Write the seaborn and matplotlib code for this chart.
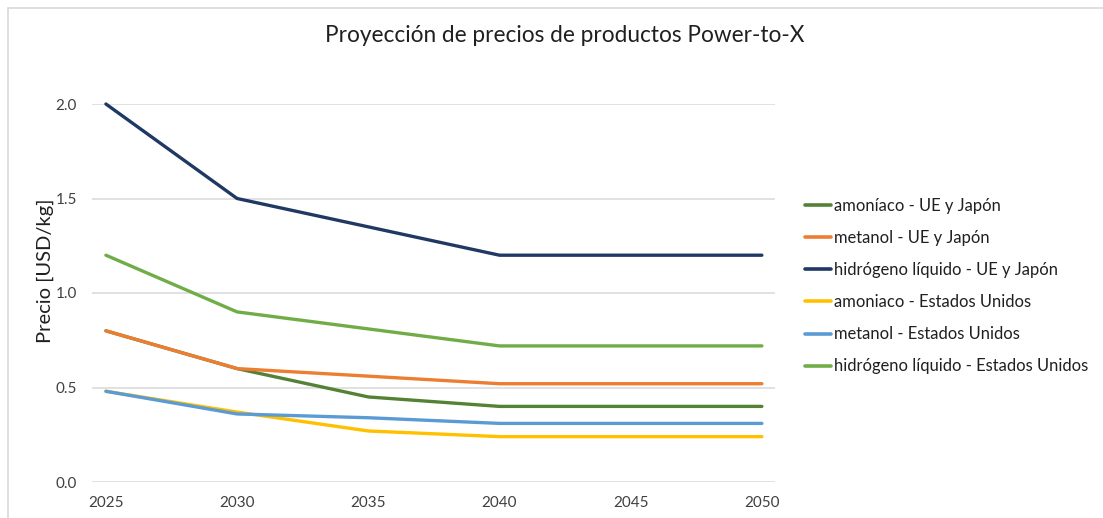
import matplotlib.pyplot as plt
import seaborn as sns
import pandas as pd
from matplotlib.lines import Line2D

# data
years = [2025, 2030, 2035, 2040, 2045, 2050]
amoniaco_ue = [0.80, 0.60, 0.45, 0.40, 0.40, 0.40]
metanol_ue = [0.80, 0.60, 0.56, 0.52, 0.52, 0.52]
hidrogeno_ue = [2.00, 1.50, 1.35, 1.20, 1.20, 1.20]
amoniaco_us = [0.48, 0.37, 0.27, 0.24, 0.24, 0.24]
metanol_us = [0.48, 0.36, 0.34, 0.31, 0.31, 0.31]
hidrogeno_us = [1.20, 0.90, 0.81, 0.72, 0.72, 0.72]

series_names = [
    "amoníaco - UE y Japón",
    "metanol - UE y Japón",
    "hidrógeno líquido - UE y Japón",
    "amoniaco - Estados Unidos",
    "metanol - Estados Unidos",
    "hidrógeno líquido - Estados Unidos",
]
series_values = [amoniaco_ue, metanol_ue, hidrogeno_ue,
                 amoniaco_us, metanol_us, hidrogeno_us]
colors = ["#548235", "#ED7D31", "#203864", "#FFC000", "#5B9BD5", "#70AD47"]

rows = []
for name, vals in zip(series_names, series_values):
    for yr, v in zip(years, vals):
        rows.append({"year": yr, "precio": v, "serie": name})
df = pd.DataFrame(rows)

sns.set_style("white")
plt.rcParams["font.family"] = ["Lato", "DejaVu Sans"]

fig = plt.figure(figsize=(11.03, 5.18), dpi=100)
ax = fig.add_axes([92 / 1103, 1 - 482 / 518, (775 - 92) / 1103, (482 - 104) / 518])

sns.lineplot(data=df, x="year", y="precio", hue="serie", hue_order=series_names,
             palette=colors, linewidth=2.4, ax=ax, legend=False)
for ln in ax.lines:
    ln.set_clip_on(False)

ax.set_xlim(2024.47, 2050.5)
ax.set_ylim(0, 2.0)
ax.set_xticks(years)
ax.set_yticks([0, 0.5, 1.0, 1.5, 2.0])
ax.set_yticklabels(["0.0", "0.5", "1.0", "1.5", "2.0"])
ax.grid(axis="y", color="#D9D9D9", linewidth=1.1)
ax.set_axisbelow(True)
for s in ax.spines.values():
    s.set_visible(False)
ax.tick_params(axis="both", length=0, labelsize=11, colors="#404040")
ax.tick_params(axis="y", pad=11)
ax.tick_params(axis="x", pad=10)
ax.set_xlabel("")
ax.set_ylabel("Precio [USD/kg]", fontsize=14.5, color="#202020")
ax.yaxis.set_label_coords(-0.056, 0.56)

fig.text(565 / 1103, 1 - 35 / 518, "Proyección de precios de productos Power-to-X",
         ha="center", va="center", fontsize=16.3, color="#202020")

handles = [Line2D([0], [0], color=c, linewidth=2.6) for c in colors]
fig.legend(handles, series_names, loc="center left",
           bbox_to_anchor=(790 / 1103, 1 - 286 / 518), frameon=False,
           fontsize=11.9, handlelength=1.6, handletextpad=0.15,
           labelspacing=0.98, labelcolor="#202020")

# chart area border (left and top only visible in the crop)
fig.add_artist(Line2D([8 / 1103, 8 / 1103], [0, 1 - 8 / 518],
                      color="#D9D9D9", linewidth=1.2, transform=fig.transFigure))
fig.add_artist(Line2D([8 / 1103, 1], [1 - 8 / 518, 1 - 8 / 518],
                      color="#D9D9D9", linewidth=1.2, transform=fig.transFigure))

fig.savefig("out.png", dpi=100)
